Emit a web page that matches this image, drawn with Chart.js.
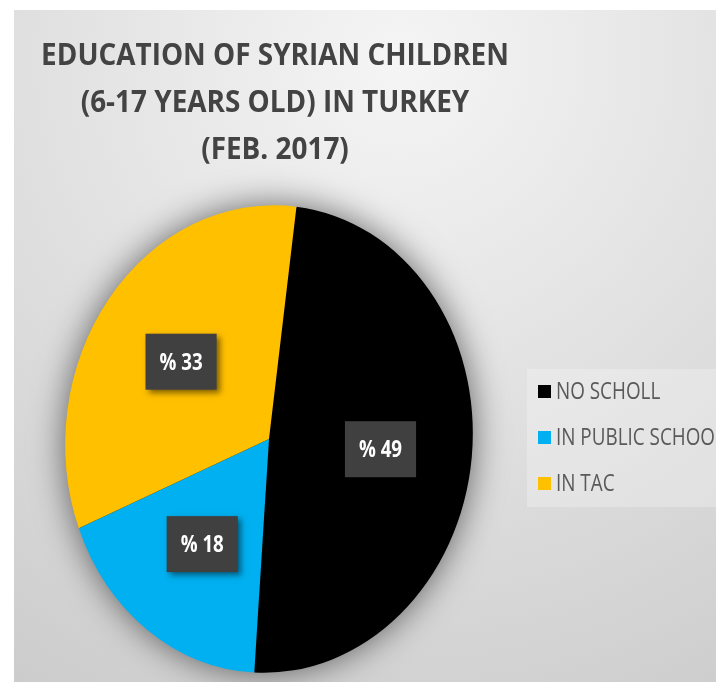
<!DOCTYPE html>
<html>
<head>
<meta charset="utf-8">
<script src="https://cdn.jsdelivr.net/npm/chart.js@4.4.1/dist/chart.umd.min.js"></script>
<style>
  html, body { margin: 0; padding: 0; background: #fff; overflow: hidden; }
  #wrap { width: 716px; height: 682px; position: relative; }
</style>
</head>
<body>
<div id="wrap"><canvas id="chartPie"></canvas></div>
<script>
// data
const titleLines = ['EDUCATION OF SYRIAN CHILDREN', '(6-17 YEARS OLD) IN TURKEY', '(FEB. 2017)'];
const categories = ['NO SCHOLL', 'IN PUBLIC SCHOOL', 'IN TAC'];
const shares = [49, 18, 33];
const sliceColors = ['#000000', '#00B0F0', '#FFC000'];

const FONT = '"Open Sans", sans-serif';
const W = 716, H = 682;
const CX = 269, CY = 439, R = 234;   // pie centre and vertical radius
const SQUEEZE = 0.87;                // pie looks like a tilted ellipse
const TILT = 5 * Math.PI / 180;

function toEllipse(x, y) {
  const dx = (x - CX) * SQUEEZE, dy = y - CY;
  return [CX + dx * Math.cos(TILT) - dy * Math.sin(TILT), CY + dx * Math.sin(TILT) + dy * Math.cos(TILT)];
}

// no condensed font installed, so squeeze the text horizontally
function narrowText(ctx, txt, x, y, sx) {
  ctx.save();
  ctx.translate(x, y);
  ctx.scale(sx, 1);
  ctx.fillText(txt, 0, 0);
  ctx.restore();
}

const backdrop = {
  id: 'backdrop',
  beforeDraw(chart) {
    const ctx = chart.ctx;
    ctx.save();
    ctx.fillStyle = '#ffffff';
    ctx.fillRect(0, 0, W, H);
    const g = ctx.createRadialGradient(400, 60, 0, 400, 60, 750);
    g.addColorStop(0, '#f5f5f5');
    g.addColorStop(1, '#cbcbcb');
    ctx.fillStyle = g;
    ctx.fillRect(14, 10, W - 14, H - 10);

    ctx.fillStyle = '#434343';
    ctx.font = 'bold 31px ' + FONT;
    ctx.textAlign = 'center';
    ctx.textBaseline = 'alphabetic';
    titleLines.forEach((t, i) => narrowText(ctx, t, 275, 65 + i * 47, 0.9));
    ctx.restore();
  }
};

const ellipse = {
  id: 'ellipse',
  beforeDatasetsDraw(chart) {
    const ctx = chart.ctx;
    ctx.save();
    ctx.translate(CX, CY);
    ctx.rotate(TILT);
    ctx.scale(SQUEEZE, 1);
    ctx.translate(-CX, -CY);
    // soft halo under the pie
    ctx.save();
    ctx.shadowColor = 'rgba(0,0,0,0.6)';
    ctx.shadowBlur = 35;
    ctx.fillStyle = '#000';
    ctx.beginPath();
    ctx.arc(CX, CY, R - 1, 0, Math.PI * 2);
    ctx.fill();
    ctx.restore();
  },
  afterDatasetsDraw(chart) {
    const ctx = chart.ctx;
    ctx.restore();

    // data labels
    const meta = chart.getDatasetMeta(0);
    ctx.save();
    ctx.font = 'bold 24px ' + FONT;
    ctx.textAlign = 'center';
    ctx.textBaseline = 'middle';
    meta.data.forEach((arc, i) => {
      const p = arc.getProps(['x', 'y', 'startAngle', 'endAngle', 'outerRadius'], true);
      const mid = (p.startAngle + p.endAngle) / 2;
      const [lx, ly] = toEllipse(p.x + Math.cos(mid) * p.outerRadius * 0.55, p.y + Math.sin(mid) * p.outerRadius * 0.55);
      const txt = '% ' + chart.data.datasets[0].data[i];
      const bw = ctx.measureText(txt).width * 0.78 + 28, bh = 56;
      ctx.save();
      ctx.shadowColor = 'rgba(0,0,0,0.5)';
      ctx.shadowBlur = 6;
      ctx.shadowOffsetX = 3;
      ctx.shadowOffsetY = 3;
      ctx.fillStyle = '#404040';
      ctx.fillRect(lx - bw / 2, ly - bh / 2, bw, bh);
      ctx.restore();
      ctx.fillStyle = '#ffffff';
      narrowText(ctx, txt, lx, ly + 1, 0.78);
    });

    // legend
    ctx.fillStyle = 'rgba(255,255,255,0.25)';
    ctx.fillRect(527, 369, W - 527, 138);
    ctx.font = '23px ' + FONT;
    ctx.textAlign = 'left';
    chart.data.labels.forEach((lab, i) => {
      const y = 392 + i * 46;
      ctx.fillStyle = sliceColors[i];
      ctx.fillRect(538, y - 7, 13, 13);
      ctx.fillStyle = '#595959';
      narrowText(ctx, lab, 556, y, 0.82);
    });
    ctx.restore();
  }
};

new Chart(document.getElementById('chartPie'), {
  type: 'pie',
  data: {
    labels: categories,
    datasets: [{ data: shares, backgroundColor: sliceColors, borderWidth: 0 }]
  },
  options: {
    responsive: true,
    maintainAspectRatio: false,
    animation: false,
    rotation: 2,
    layout: { padding: { left: CX - R, right: W - CX - R, top: CY - R, bottom: H - CY - R } },
    plugins: { legend: { display: false }, title: { display: false }, tooltip: { enabled: false } }
  },
  plugins: [backdrop, ellipse]
});
</script>
</body>
</html>
